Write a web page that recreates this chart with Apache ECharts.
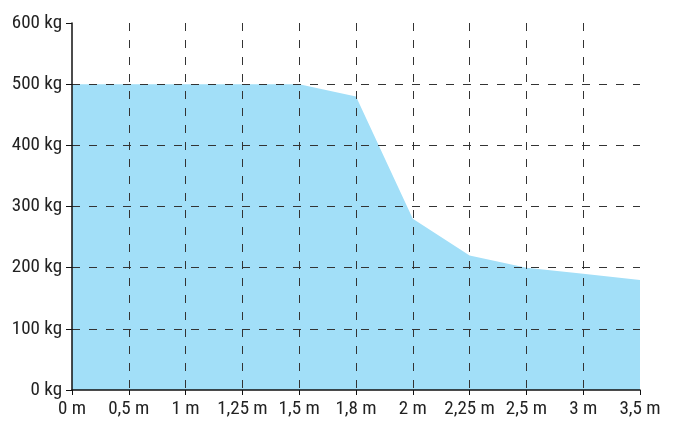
<!DOCTYPE html>
<html>
<head>
<meta charset="utf-8">
<script src="https://cdn.jsdelivr.net/npm/echarts@6/dist/echarts.min.js"></script>
<style>
  html, body { margin: 0; padding: 0; background: #fff; }
  #chart { width: 682px; height: 421px; }
</style>
</head>
<body>
<div id="chart"></div>
<script>
const distances = ['0 m', '0,5 m', '1 m', '1,25 m', '1,5 m', '1,8 m', '2 m', '2,25 m', '2,5 m', '3 m', '3,5 m']
const loads = [500, 500, 500, 500, 500, 480, 280, 220, 200, 190, 180]

const font = '"Liberation Sans Narrow", "Roboto Condensed", "Liberation Sans", sans-serif'
const dashed = { color: '#333', width: 1, type: [8, 9] }

const chart = echarts.init(document.getElementById('chart'))

chart.setOption({
  animation: false,
  grid: { left: 72, right: 42, top: 23, bottom: 31, containLabel: false },
  xAxis: {
    type: 'category',
    data: distances,
    boundaryGap: false,
    z: 3,
    axisLine: { lineStyle: { color: '#111', width: 1.5 } },
    axisTick: { show: true, length: 5, interval: 0, lineStyle: { color: '#111' } },
    axisLabel: { color: '#222', fontFamily: font, fontSize: 19, margin: 10, interval: 0 },
    splitLine: { show: true, interval: 0, showMinLine: false, showMaxLine: false, lineStyle: dashed }
  },
  yAxis: {
    type: 'value',
    min: 0,
    max: 600,
    interval: 100,
    z: 3,
    axisLine: { show: true, lineStyle: { color: '#111', width: 1.5 } },
    axisTick: { show: true, length: 6, lineStyle: { color: '#111' } },
    axisLabel: { color: '#222', fontFamily: font, fontSize: 19, margin: 10, formatter: '{value} kg' },
    splitLine: { show: true, showMinLine: false, showMaxLine: false, lineStyle: dashed }
  },
  series: [
    {
      type: 'line',
      data: loads,
      z: 1,
      symbol: 'none',
      lineStyle: { width: 0 },
      areaStyle: { color: '#a2dff8', opacity: 1 }
    }
  ]
})
</script>
</body>
</html>
